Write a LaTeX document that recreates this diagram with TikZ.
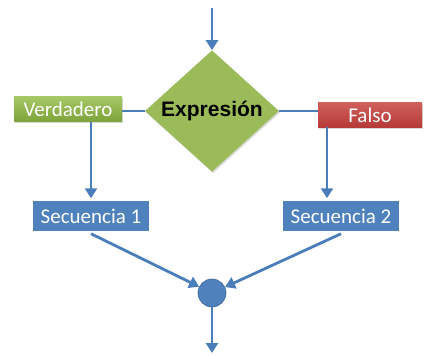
\documentclass[tikz,border=0pt]{standalone}
\usepackage{fontspec}
\setmainfont{Carlito}
\newfontfamily\arialb{Liberation Sans}
\usetikzlibrary{shapes.geometric,arrows.meta,shadows}
\definecolor{lineblue}{HTML}{4A7EBB}
\definecolor{boxblue}{HTML}{4F81BD}
\definecolor{dgreen}{HTML}{9BBB59}
\definecolor{vgreentop}{HTML}{A6C866}
\definecolor{vgreenbot}{HTML}{7EA33A}
\definecolor{redtop}{HTML}{D0605C}
\definecolor{redbot}{HTML}{B53A37}
\tikzset{
  conn/.style={draw=lineblue, line width=2.8pt},
  arr/.style={conn, -{Triangle[length=10pt,width=12pt]}},
  seqbox/.style={rectangle, fill=boxblue, draw=white, line width=2.5pt, minimum width=118pt, minimum height=33pt, inner sep=0pt, text=white, font=\fontsize{21}{24}\selectfont, drop shadow={shadow xshift=1pt, shadow yshift=-1.5pt, opacity=0.3}},
  tagbox/.style={rectangle, inner sep=0pt, minimum height=25pt, text=white, font=\fontsize{21}{24}\selectfont, drop shadow={shadow xshift=1pt, shadow yshift=-1.5pt, opacity=0.3}},
}
\begin{document}
\begin{tikzpicture}[x=1pt,y=-1pt]
\useasboundingbox (0,0) rectangle (424,356);
\coordinate (top) at (212,8);
\node[diamond, fill=dgreen, inner sep=0pt, minimum width=134pt, minimum height=110pt, font=\arialb\bfseries\fontsize{21}{24}\selectfont, drop shadow={shadow xshift=1pt, shadow yshift=-1.5pt, opacity=0.3}] (d) at (212,111) {Expresión};
\node[tagbox, top color=vgreentop, bottom color=vgreenbot, minimum width=108pt] (v) at (68,109) {Verdadero};
\node[tagbox, top color=redtop, bottom color=redbot, minimum width=104pt] (f) at (370,115) {Falso};
\node[seqbox] (s1) at (91,216) {Secuencia 1};
\node[seqbox] (s2) at (341,216) {Secuencia 2};
\node[circle, fill=boxblue, draw=lineblue!80!black, line width=0.6pt, minimum size=28pt, inner sep=0pt] (c) at (212,293) {};
\coordinate (fd) at (327,127);
\coordinate (bot) at (212,353);
\draw[arr] (top) -- (d.north);
\draw[conn] (d.west) -- (d.west -| v.east);
\draw[conn] (d.east) -- (d.east -| f.west);
\draw[arr] (s1.north |- v.south) -- (s1.north);
\draw[arr] (fd) -- (fd |- s2.north);
\draw[arr] (s1.south) -- (c);
\draw[arr] (s2.south) -- (c);
\draw[arr] (c) -- (bot);
\end{tikzpicture}
\end{document}
